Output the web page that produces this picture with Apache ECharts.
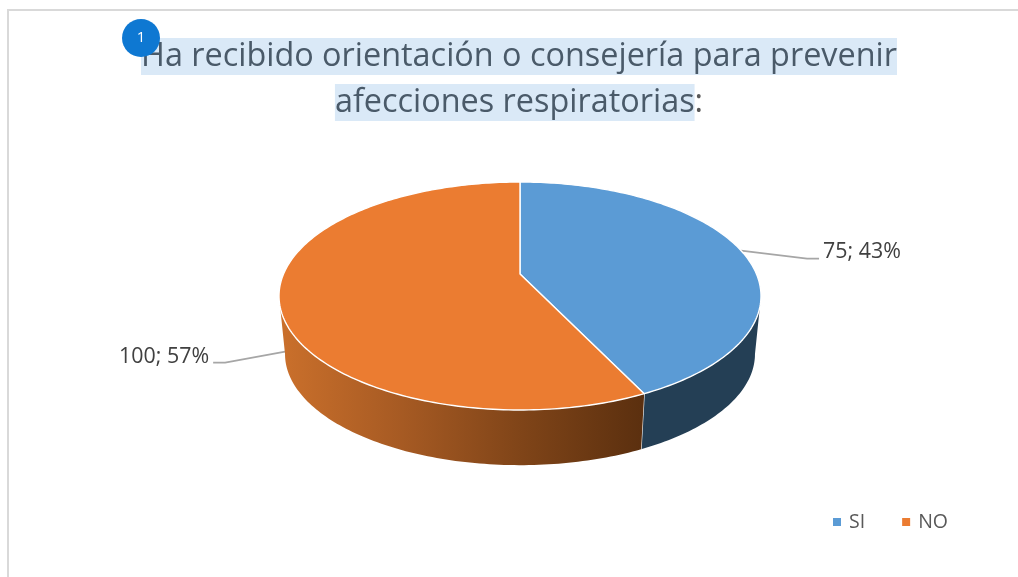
<!DOCTYPE html>
<html><head><meta charset="utf-8">
<style>html,body{margin:0;padding:0;background:#fff}#c{width:1018px;height:577px}</style>
<script src="https://cdn.jsdelivr.net/npm/echarts@6/dist/echarts.min.js"></script>
</head><body><div id="c"></div>
<script>
const categories = ['SI', 'NO'];
const values = [75, 100];
const percents = [43, 57];
const titleLines = ['Ha recibido orientación o consejería para prevenir', 'afecciones respiratorias'];

const FONT = '"Open Sans", "Noto Sans", sans-serif';
const total = values.reduce((a, b) => a + b, 0);
const colors = ['#5B9BD5', '#EB7C31'];
const CX = 520, TOPY = 296, RX = 241, RY = 114, APEX = 22;
const BOTY = 354, BOTSCALE = 0.975;
const P = APEX / RY, AX = RX * Math.sqrt(1 - P * P);
const VIS_R = Math.acos(-P) * 180 / Math.PI, VIS_L = 360 - VIS_R;

// perspective projection of a point on the pie's rim (deg clockwise from 12 o'clock)
function rim(deg, level) {
  const a = deg * Math.PI / 180, u = Math.sin(a), v = Math.cos(a), d = 1 + P * v;
  const X = AX * u / d, Y = (RY * v + APEX) / d;
  return level === 0 ? [CX + X, TOPY - Y] : [CX + X * BOTSCALE, BOTY - Y * BOTSCALE];
}
function arc(from, to, level) {
  const pts = [], n = Math.max(2, Math.ceil(Math.abs(to - from)));
  for (let i = 0; i <= n; i++) pts.push(rim(from + (to - from) * i / n, level));
  return pts;
}
function startDeg(i) {
  let s = 0;
  for (let k = 0; k < i; k++) s += values[k];
  return s / total * 360;
}

function renderSlice(params, api) {
  const i = params.seriesIndex, val = api.value(0);
  const a0 = startDeg(i), a1 = a0 + val / total * 360, mid = (a0 + a1) / 2;
  const children = [];

  // leader line + label
  const right = mid < 180;
  const e = rim(mid, 0), b = rim(mid, 1);
  const anchor = right ? e : [b[0], e[1] + (b[1] - e[1]) * 0.9];
  const dir = right ? 1 : -1;
  const elbow = right ? [anchor[0] + 66, anchor[1] + 8] : [anchor[0] - 60, anchor[1] + 11];
  const end = [elbow[0] + dir * 12, elbow[1]];
  children.push({type: 'polyline', shape: {points: [anchor, elbow, end]},
    style: {stroke: '#A6A6A6', lineWidth: 1.8, fill: null}});
  children.push({type: 'text', style: {
    x: end[0] + dir * 4, y: right ? end[1] - 7 : end[1] - 6,
    text: val + '; ' + percents[i] + '%',
    font: '21.4px ' + FONT, fill: '#404040',
    textAlign: right ? 'left' : 'right', textVerticalAlign: 'middle'}});

  // front wall
  const w0 = Math.max(a0, VIS_R), w1 = Math.min(a1, VIS_L);
  if (w1 > w0) {
    const pts = arc(w0, w1, 0).concat(arc(w1, w0, 1));
    const fill = i === 0 ? '#243F55' : {type: 'linear', x: 285, y: 0, x2: 640, y2: 0, global: true,
      colorStops: [{offset: 0, color: '#C96F2B'}, {offset: 0.33, color: '#A65A23'},
                   {offset: 0.67, color: '#7F4418'}, {offset: 1, color: '#5C300F'}]};
    children.push({type: 'polygon', shape: {points: pts}, style: {fill: fill}});
    // white seam between walls
    if (a1 < VIS_L && a1 > VIS_R) children.push({type: 'line',
      shape: {x1: rim(a1, 0)[0], y1: rim(a1, 0)[1], x2: rim(a1, 1)[0], y2: rim(a1, 1)[1]},
      style: {stroke: '#F2F2F2', lineWidth: 1.2}});
  }

  // top face
  const apex = [CX, TOPY - APEX];
  children.push({type: 'polygon', shape: {points: [apex].concat(arc(a0, a1, 0))},
    style: {fill: colors[i], stroke: '#FFFFFF', lineWidth: 1.4, lineJoin: 'round'}, z2: 5});
  return {type: 'group', children: children};
}

const titleRich = {fontFamily: FONT, fontWeight: 'normal', fontSize: 32.4, height: 37, lineHeight: 37};
const chart = echarts.init(document.getElementById('c'), null, {renderer: 'canvas'});
chart.setOption({
  animation: false,
  backgroundColor: '#fff',
  textStyle: {fontFamily: FONT},
  title: [
    {left: 519, top: 38, textAlign: 'center', padding: 0,
     text: '{h|' + titleLines[0] + '}',
     textStyle: {rich: {h: Object.assign({color: '#4A5A69', backgroundColor: '#DAE9F7'}, titleRich)}}},
    {left: 519, top: 84, textAlign: 'center', padding: 0,
     text: '{h|' + titleLines[1] + '}{n|:}',
     textStyle: {rich: {
       h: Object.assign({color: '#4A5A69', backgroundColor: '#DAE9F7'}, titleRich),
       n: Object.assign({color: '#595959'}, titleRich)}}}
  ],
  legend: {
    left: 833, top: 512, padding: 0, data: categories, icon: 'rect', itemWidth: 8, itemHeight: 8,
    itemGap: 37, selectedMode: false,
    textStyle: {fontFamily: FONT, fontSize: 19.5, color: '#595959', padding: [0, 0, 0, 3]}
  },
  graphic: [
    {type: 'line', shape: {x1: 8, y1: 10, x2: 1018, y2: 10}, style: {stroke: '#D9D9D9', lineWidth: 2}},
    {type: 'line', shape: {x1: 8, y1: 9, x2: 8, y2: 577}, style: {stroke: '#D9D9D9', lineWidth: 2}},
    {type: 'circle', shape: {cx: 141, cy: 38, r: 19}, style: {fill: '#0E78D2'}, z: 100},
    {type: 'text', style: {x: 141, y: 38, text: '1', fill: '#fff', font: '15px ' + FONT, textAlign: 'center', textVerticalAlign: 'middle'}, z: 101}
  ],
  series: categories.map((name, i) => ({
    type: 'custom', name: name, coordinateSystem: 'none', silent: true,
    itemStyle: {color: colors[i]},
    data: [[values[i]]],
    renderItem: renderSlice
  }))
});
</script></body></html>
